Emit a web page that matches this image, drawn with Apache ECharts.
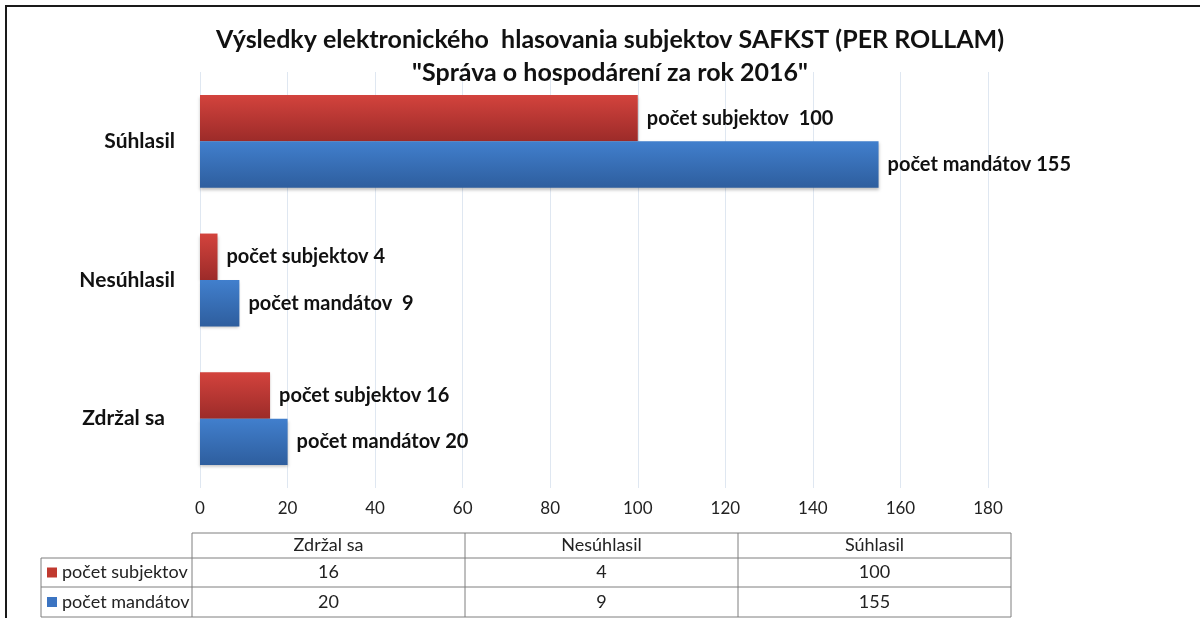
<!DOCTYPE html>
<html>
<head>
<meta charset="utf-8">
<script src="https://cdn.jsdelivr.net/npm/echarts@6/dist/echarts.min.js"></script>
<style>
  html, body { margin: 0; padding: 0; background: #fff; }
  #chart { width: 1200px; height: 618px; }
</style>
</head>
<body>
<div id="chart"></div>
<script>
// kategórie (zdola nahor ako na osi Y)
const categories = ['Zdržal sa', 'Nesúhlasil', 'Súhlasil'];
const subjektov = [16, 4, 100];
const mandatov = [20, 9, 155];
const subjektovLabels = ['počet subjektov 16', 'počet subjektov 4', 'počet subjektov  100'];
const mandatovLabels = ['počet mandátov 20', 'počet mandátov  9', 'počet mandátov 155'];
const xTicks = [0, 20, 40, 60, 80, 100, 120, 140, 160, 180];

const FONT = 'Lato, "Open Sans", sans-serif';
const RED = '#c0392f';
const BLUE = '#3b74c2';

function grad(top, bottom) {
  return new echarts.graphic.LinearGradient(0, 0, 0, 1, [
    { offset: 0, color: top },
    { offset: 1, color: bottom }
  ]);
}

// tabuľka s údajmi pod grafom
function buildTable() {
  const left = 41;
  const cols = [192, 465, 738, 1011];
  const rows = [533, 558, 587, 617];
  const lineStyle = { stroke: '#7f7f7f', lineWidth: 1 };
  const els = [];
  const line = (x1, y1, x2, y2) => els.push({ type: 'line', shape: { x1, y1, x2, y2 }, style: lineStyle, silent: true });

  // horizontálne čiary
  line(cols[0], rows[0], cols[3], rows[0]);
  line(left, rows[1], cols[3], rows[1]);
  line(left, rows[2], cols[3], rows[2]);
  line(left, rows[3], cols[3], rows[3]);
  // vertikálne čiary
  line(left, rows[1], left, rows[3]);
  cols.forEach(x => line(x, rows[0], x, rows[3]));

  const txt = (text, x, y, align) => els.push({
    type: 'text', x, y, silent: true,
    style: { text, fill: '#222', font: '18px ' + FONT, align, verticalAlign: 'middle' }
  });
  const cx = i => (cols[i] + cols[i + 1]) / 2;
  const cy = r => (rows[r] + rows[r + 1]) / 2;

  categories.forEach((c, i) => txt(c, cx(i), cy(0), 'center'));
  subjektov.forEach((v, i) => txt(String(v), cx(i), cy(1), 'center'));
  mandatov.forEach((v, i) => txt(String(v), cx(i), cy(2), 'center'));

  [['počet subjektov', RED, 1], ['počet mandátov', BLUE, 2]].forEach(([name, color, r]) => {
    els.push({ type: 'rect', shape: { x: 47, y: cy(r) - 5, width: 10, height: 10 }, style: { fill: color }, silent: true });
    txt(name, 62, cy(r), 'left');
  });
  return els;
}

const chart = echarts.init(document.getElementById('chart'));
chart.setOption({
  animation: false,
  title: {
    text: 'Výsledky elektronického  hlasovania subjektov SAFKST (PER ROLLAM)\n"Správa o hospodárení za rok 2016"',
    left: 605,
    textAlign: 'center',
    top: 18,
    textStyle: { fontFamily: FONT, fontWeight: 'bold', fontSize: 25, color: '#111', lineHeight: 33 }
  },
  grid: { left: 200, right: 212, top: 72, height: 416, containLabel: false },
  xAxis: {
    type: 'value',
    min: 0, max: 180, interval: 20,
    axisLine: { show: false },
    axisTick: { show: false },
    splitLine: { lineStyle: { color: '#dfe7f1', width: 1 } },
    axisLabel: {
      margin: 12, fontSize: 17, color: '#222', fontFamily: FONT,
      formatter: v => xTicks.includes(v) ? String(v) : ''
    }
  },
  yAxis: {
    type: 'category',
    data: categories,
    axisLine: { show: false },
    axisTick: { show: false },
    axisLabel: {
      margin: 25, fontSize: 21, fontWeight: 'bold', color: '#111', fontFamily: FONT,
      // v origináli má "Zdržal sa" na konci medzeru
      formatter: v => v === 'Zdržal sa' ? v + '  ' : v
    }
  },
  series: [
    {
      name: 'počet subjektov',
      type: 'bar',
      data: subjektov,
      barGap: '0%',
      barCategoryGap: '33%',
      itemStyle: {
        color: grad('#d3433d', '#9c2b29'),
        shadowColor: 'rgba(0,0,0,0.25)', shadowBlur: 3, shadowOffsetY: 2
      },
      label: {
        show: true, position: 'right', distance: 9,
        fontSize: 20, fontWeight: 'bold', color: '#111', fontFamily: FONT,
        formatter: p => subjektovLabels[p.dataIndex]
      }
    },
    {
      name: 'počet mandátov',
      type: 'bar',
      data: mandatov,
      barGap: '0%',
      barCategoryGap: '33%',
      itemStyle: {
        color: grad('#417fcd', '#2e5e9e'),
        shadowColor: 'rgba(0,0,0,0.25)', shadowBlur: 3, shadowOffsetY: 2
      },
      label: {
        show: true, position: 'right', distance: 9,
        fontSize: 20, fontWeight: 'bold', color: '#111', fontFamily: FONT,
        formatter: p => mandatovLabels[p.dataIndex]
      }
    }
  ],
  graphic: [
    // rám obrázka (orezaný vpravo a dole)
    { type: 'polyline', shape: { points: [[6, 700], [6, 6], [1300, 6]] }, style: { stroke: '#1a1a1a', lineWidth: 2, fill: null }, silent: true },
    ...buildTable()
  ]
});
</script>
</body>
</html>
